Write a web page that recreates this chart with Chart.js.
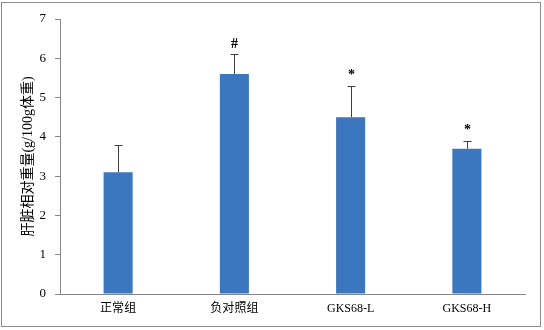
<!DOCTYPE html>
<html>
<head>
<meta charset="utf-8">
<script src="https://cdn.jsdelivr.net/npm/chart.js@4.4.1/dist/chart.umd.min.js"></script>
<style>
  html, body { margin: 0; padding: 0; background: #fff; }
  #wrap { position: relative; width: 544px; height: 330px; }
  #frame { position: absolute; left: 1px; top: 2px; width: 538px; height: 323px; border: 1px solid #8c8c8c; pointer-events: none; }
</style>
</head>
<body>
<div id="wrap">
  <canvas id="chart" width="544" height="330"></canvas>
  <div id="frame"></div>
</div>
<script>
var categories = ['正常组', '负对照组', 'GKS68-L', 'GKS68-H'];
var values = [3.1, 5.6, 4.5, 3.7];
var errors = [0.7, 0.5, 0.8, 0.2];
var marks = ['', '#', '*', '*'];
var yTicks = [0, 1, 2, 3, 4, 5, 6, 7];

var fontFamily = '"Liberation Serif", "Noto Sans CJK SC", serif';

// error bars and significance marks, drawn through the scales
var errorBarPlugin = {
    id: 'errorBars',
    afterDatasetsDraw: function (chart) {
        var ctx = chart.ctx;
        var x = chart.scales.x;
        var y = chart.scales.y;
        ctx.save();
        ctx.strokeStyle = '#404040';
        ctx.lineWidth = 1;
        for (var i = 0; i < values.length; i++) {
            var cx = Math.round(x.getPixelForValue(i)) + 0.5;
            var top = y.getPixelForValue(values[i] + errors[i]);
            var base = y.getPixelForValue(values[i]);
            ctx.beginPath();
            ctx.moveTo(cx, base);
            ctx.lineTo(cx, Math.round(top) + 0.5);
            ctx.moveTo(cx - 4, Math.round(top) + 0.5);
            ctx.lineTo(cx + 4, Math.round(top) + 0.5);
            ctx.stroke();
            if (marks[i]) {
                ctx.fillStyle = '#000';
                ctx.font = 'bold 14px ' + fontFamily;
                ctx.textAlign = 'center';
                ctx.textBaseline = 'bottom';
                ctx.fillText(marks[i], cx, top - 3);
            }
        }
        ctx.restore();
    }
};

var ctx = document.getElementById('chart');
var myBarChart = new Chart(ctx, {
    type: 'bar',
    data: {
        labels: categories,
        datasets: [
            {
                data: values,
                backgroundColor: '#3c76bc',
                borderWidth: 0,
                categoryPercentage: 1,
                barPercentage: 0.25
            }
        ]
    },
    options: {
        responsive: false,
        animation: false,
        events: [],
        layout: {
            padding: { left: 20, top: 19, right: 19, bottom: 0 }
        },
        plugins: {
            legend: { display: false },
            tooltip: { enabled: false }
        },
        scales: {
            x: {
                grid: { display: false, drawTicks: false },
                border: { color: '#868686', width: 1 },
                ticks: {
                    color: '#000',
                    padding: 8,
                    font: { family: fontFamily, size: 12 }
                },
                afterFit: function (scale) { scale.height = 36; }
            },
            y: {
                min: 0,
                max: 7,
                afterBuildTicks: function (scale) {
                    scale.ticks = yTicks.map(function (v) { return { value: v }; });
                },
                grid: {
                    drawOnChartArea: false,
                    drawTicks: true,
                    tickLength: 5,
                    color: '#868686'
                },
                border: { color: '#868686', width: 1 },
                ticks: {
                    color: '#000',
                    padding: 9,
                    font: { family: fontFamily, size: 13 }
                },
                title: {
                    display: true,
                    text: '肝脏相对重量(g/100g体重)',
                    color: '#000',
                    padding: { top: 0, bottom: 4 },
                    font: { family: fontFamily, size: 14 }
                },
                afterFit: function (scale) { scale.width = 40; }
            }
        }
    },
    plugins: [errorBarPlugin]
});
</script>
</body>
</html>
